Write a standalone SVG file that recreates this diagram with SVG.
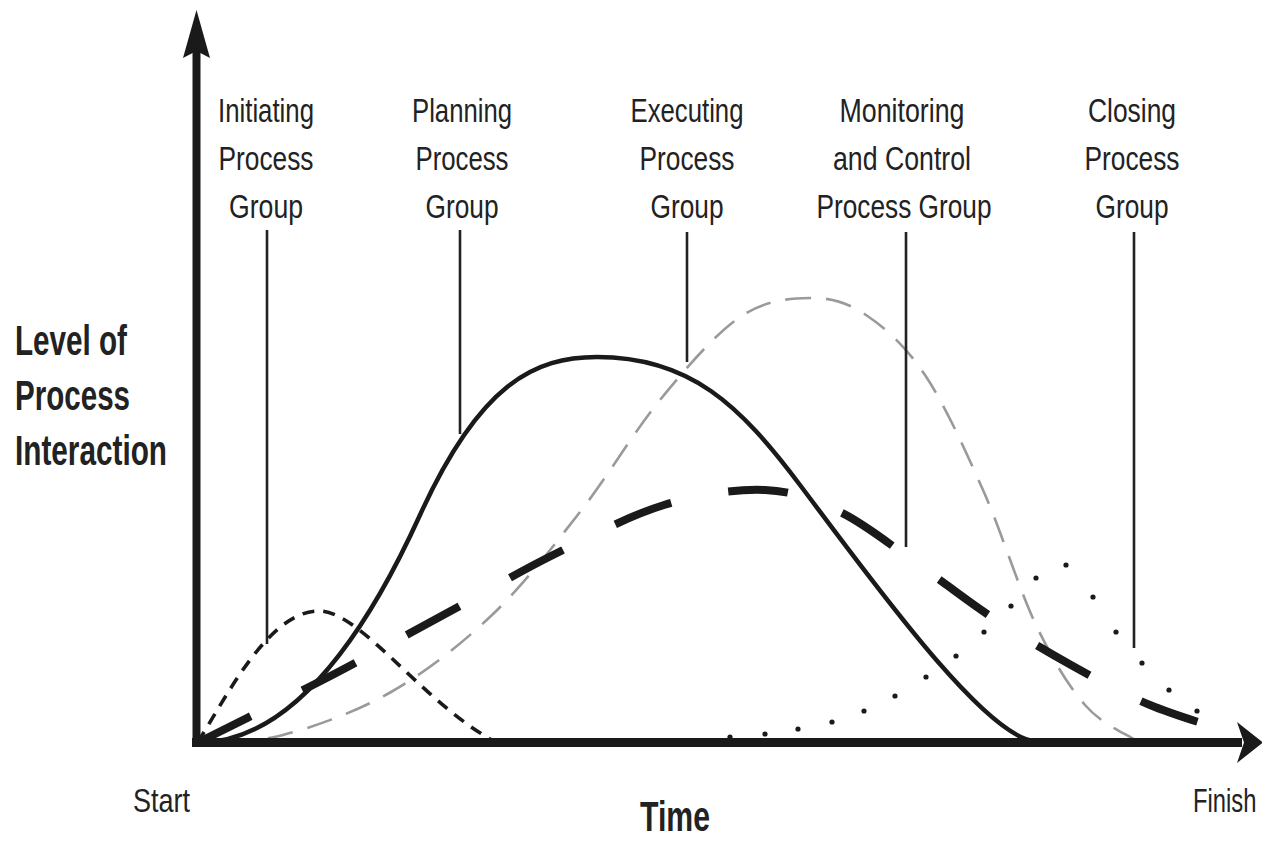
<svg xmlns="http://www.w3.org/2000/svg" width="1262" height="841" viewBox="0 0 1262 841">
  <style>
    .lbl { font-family: "Liberation Sans", Arial, sans-serif; font-size: 33px; fill: #222; text-anchor: middle; }
    .big { font-family: "Liberation Sans", Arial, sans-serif; font-size: 42px; font-weight: bold; fill: #222; }
    .end { font-family: "Liberation Sans", Arial, sans-serif; font-size: 34px; fill: #222; }
    .leader { stroke: #222; stroke-width: 2.6; fill: none; }
    .axis { stroke: #1a1a1a; fill: none; }
    .curve { fill: none; }
  </style>
  <rect width="1262" height="841" fill="#ffffff"/>

  <!-- Curves -->
  <g id="curves">
    <path id="executing-curve" class="curve" stroke="#9a9a9a" stroke-width="2.6" stroke-dasharray="26 15" stroke-dashoffset="-30"
      d="M197,743 C211.3,741.7 250.7,743.5 283,735 C315.3,726.5 356.2,712 391,692 C425.8,672 460.5,645 492,615 C523.5,585 552,547.8 580,512 C608,476.2 633.3,432.5 660,400 C686.7,367.5 715,334 740,317 C765,300 789,298.3 810,298 C831,297.7 846.8,302.2 866,315 C885.2,327.8 905.5,345.8 925,375 C944.5,404.2 964.5,448.3 983,490 C1001.5,531.7 1019,589.2 1036,625 C1053,660.8 1068.5,685.8 1085,705 C1101.5,724.2 1126.7,734.2 1135,740"/>
    <path id="initiating-curve" class="curve" stroke="#1a1a1a" stroke-width="3.6" stroke-dasharray="12 9"
      d="M198,742 C230,690 270,612 318,611 C360,610 420,700 492,740"/>
    <path id="monitoring-curve" class="curve" stroke="#1a1a1a" stroke-width="8" stroke-dasharray="60 58"
      d="M197,743 C207,738 233.2,725 257,713 C280.8,701 308.3,687.7 340,671 C371.7,654.3 411.5,632.3 447,613 C482.5,593.7 516.8,573 553,555 C589.2,537 628.7,515.8 664,505 C699.3,494.2 735.7,488.8 765,490 C794.3,491.2 815,500 840,512 C865,524 890,544.7 915,562 C940,579.3 964,598.8 990,616 C1016,633.2 1044.3,650.2 1071,665 C1097.7,679.8 1121.8,693.3 1150,705 C1178.2,716.7 1225,730 1236,734"/>
    <path id="planning-curve" class="curve" stroke="#1a1a1a" stroke-width="4.5" stroke-linejoin="round"
      d="M197,743 C300,743 375,614 420,515 C480,383 535,357 597,357 C690,357 740,405 800,485 C870,578 985,738 1035,741"/>
    <g id="closing-curve" fill="#1a1a1a">
      <circle cx="730" cy="737" r="2.6"/>
      <circle cx="765" cy="734" r="2.6"/>
      <circle cx="798" cy="729" r="2.6"/>
      <circle cx="832" cy="722" r="2.6"/>
      <circle cx="864" cy="711" r="2.6"/>
      <circle cx="895" cy="696" r="2.6"/>
      <circle cx="926" cy="677" r="2.6"/>
      <circle cx="956" cy="656" r="2.6"/>
      <circle cx="984" cy="632" r="2.6"/>
      <circle cx="1011" cy="606" r="2.6"/>
      <circle cx="1036" cy="578" r="2.6"/>
      <circle cx="1066" cy="565" r="2.6"/>
      <circle cx="1093" cy="597" r="2.6"/>
      <circle cx="1116" cy="632" r="2.6"/>
      <circle cx="1142" cy="663" r="2.6"/>
      <circle cx="1169" cy="690" r="2.6"/>
      <circle cx="1197" cy="711" r="2.6"/>
    </g>
  </g>

  <!-- Axes -->
  <g id="axes">
    <line class="axis" x1="196.5" y1="747" x2="196.5" y2="48" stroke-width="8"/>
    <polygon points="196.5,10 210,58 196.5,51 183,58" fill="#1a1a1a"/>
    <line class="axis" x1="192" y1="742.5" x2="1242" y2="742.5" stroke-width="9"/>
    <polygon points="1263,742.5 1237,722 1244,742.5 1237,763" fill="#1a1a1a"/>
  </g>

  <!-- Connectors (leader lines) -->
  <g id="connectors">
    <line class="leader" x1="267" y1="230" x2="267" y2="644"/>
    <line class="leader" x1="460" y1="230" x2="460" y2="434"/>
    <line class="leader" x1="687" y1="232" x2="687" y2="362"/>
    <line class="leader" x1="906" y1="232" x2="906" y2="547"/>
    <line class="leader" x1="1134" y1="232" x2="1134" y2="648"/>
  </g>

  <!-- Nodes (labels) -->
  <g id="initiating">
    <text class="lbl" x="266" y="122" textLength="96" lengthAdjust="spacingAndGlyphs">Initiating</text>
    <text class="lbl" x="266" y="170" textLength="95" lengthAdjust="spacingAndGlyphs">Process</text>
    <text class="lbl" x="266" y="218" textLength="74" lengthAdjust="spacingAndGlyphs">Group</text>
  </g>
  <g id="planning">
    <text class="lbl" x="462" y="122" textLength="100" lengthAdjust="spacingAndGlyphs">Planning</text>
    <text class="lbl" x="462" y="170" textLength="93" lengthAdjust="spacingAndGlyphs">Process</text>
    <text class="lbl" x="462" y="218" textLength="73" lengthAdjust="spacingAndGlyphs">Group</text>
  </g>
  <g id="executing">
    <text class="lbl" x="687" y="122" textLength="113" lengthAdjust="spacingAndGlyphs">Executing</text>
    <text class="lbl" x="687" y="170" textLength="95" lengthAdjust="spacingAndGlyphs">Process</text>
    <text class="lbl" x="687" y="218" textLength="73" lengthAdjust="spacingAndGlyphs">Group</text>
  </g>
  <g id="monitoring">
    <text class="lbl" x="902" y="122" textLength="125" lengthAdjust="spacingAndGlyphs">Monitoring</text>
    <text class="lbl" x="902" y="170" textLength="138" lengthAdjust="spacingAndGlyphs">and Control</text>
    <text class="lbl" x="904" y="218" textLength="175" lengthAdjust="spacingAndGlyphs">Process Group</text>
  </g>
  <g id="closing">
    <text class="lbl" x="1132" y="122" textLength="88" lengthAdjust="spacingAndGlyphs">Closing</text>
    <text class="lbl" x="1132" y="170" textLength="95" lengthAdjust="spacingAndGlyphs">Process</text>
    <text class="lbl" x="1132" y="218" textLength="73" lengthAdjust="spacingAndGlyphs">Group</text>
  </g>
  <g id="y-label">
    <text class="big" x="15" y="355" textLength="112" lengthAdjust="spacingAndGlyphs">Level of</text>
    <text class="big" x="15" y="410" textLength="115" lengthAdjust="spacingAndGlyphs">Process</text>
    <text class="big" x="15" y="465" textLength="152" lengthAdjust="spacingAndGlyphs">Interaction</text>
  </g>
  <g id="x-label">
    <text class="big" x="640" y="831" textLength="70" lengthAdjust="spacingAndGlyphs">Time</text>
  </g>
  <g id="start-label">
    <text class="end" x="133" y="812" textLength="57" lengthAdjust="spacingAndGlyphs">Start</text>
  </g>
  <g id="finish-label">
    <text class="end" transform="translate(1193,812) scale(0.7,1)" x="0" y="0">Finish</text>
  </g>
</svg>
